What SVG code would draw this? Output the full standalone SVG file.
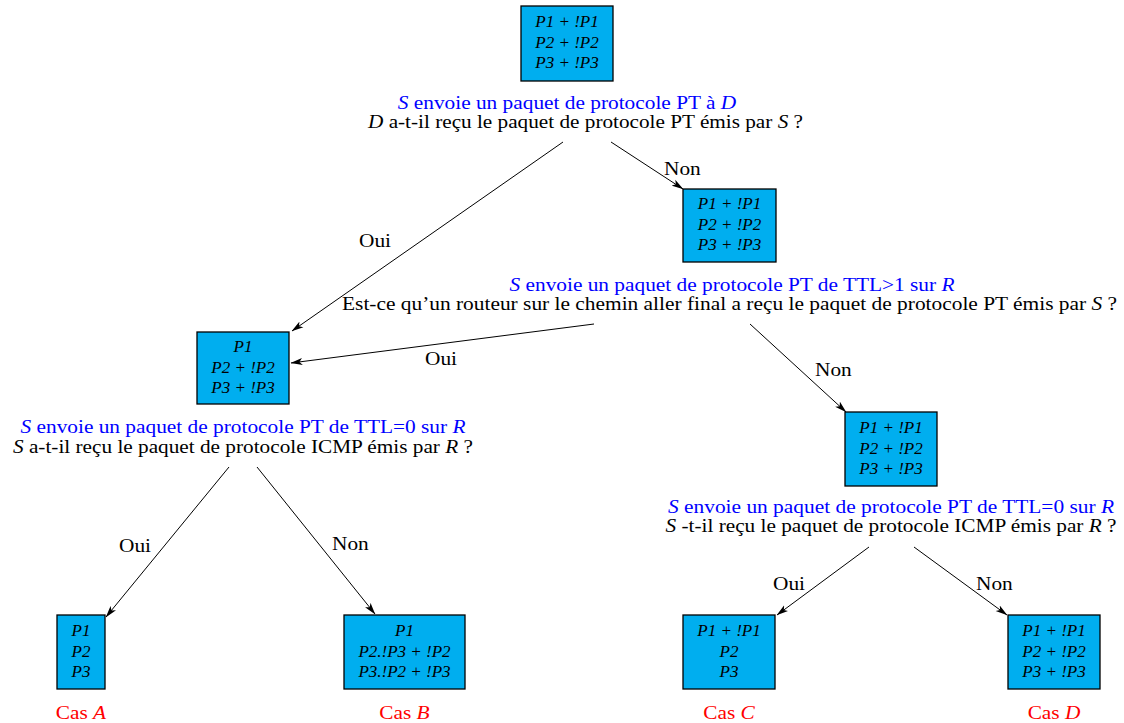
<svg xmlns="http://www.w3.org/2000/svg" width="1124" height="723" viewBox="0 0 1124 723">
<style>
text{font-family:"Liberation Serif","Times New Roman",serif;fill:#000}
.t{font-size:19px}
.bl{fill:#0000ff}
.rd{fill:#ff0000}
.bx{font-size:16px;font-style:italic;text-anchor:middle}
.i{font-style:italic}
.m{text-anchor:middle}
rect{fill:#00aeef;stroke:#000;stroke-width:1.3}
.c line{stroke:#000;stroke-width:1;marker-end:url(#ah)}
</style>
<defs>
<marker id="ah" viewBox="0 0 12 8" refX="11.5" refY="4" markerWidth="12" markerHeight="8" markerUnits="userSpaceOnUse" orient="auto">
<path d="M0,0.5 L12,4 L0,7.5 L3,4 Z" fill="#000"/>
</marker>
</defs>
<rect x="0" y="0" width="1124" height="723" style="fill:#fff;stroke:none"/>

<g id="connectors" class="c">
<line x1="563" y1="142" x2="292" y2="331"/>
<line x1="611" y1="142" x2="683" y2="189"/>
<line x1="594" y1="324" x2="291" y2="363"/>
<line x1="750" y1="324" x2="846" y2="412"/>
<line x1="229" y1="467" x2="106" y2="617"/>
<line x1="257" y1="467" x2="375" y2="614"/>
<line x1="869" y1="547" x2="777" y2="615"/>
<line x1="914" y1="547" x2="1007" y2="615"/>
</g>

<g id="edge-labels" class="t">
<text x="664" y="175" textLength="36.7" lengthAdjust="spacingAndGlyphs">Non</text>
<text x="359" y="247" textLength="32" lengthAdjust="spacingAndGlyphs">Oui</text>
<text x="425" y="365" textLength="32" lengthAdjust="spacingAndGlyphs">Oui</text>
<text x="815" y="376" textLength="36.7" lengthAdjust="spacingAndGlyphs">Non</text>
<text x="119" y="552" textLength="32" lengthAdjust="spacingAndGlyphs">Oui</text>
<text x="332" y="550" textLength="36.7" lengthAdjust="spacingAndGlyphs">Non</text>
<text x="773" y="590" textLength="32" lengthAdjust="spacingAndGlyphs">Oui</text>
<text x="976" y="590" textLength="36.7" lengthAdjust="spacingAndGlyphs">Non</text>
</g>

<g id="n1">
<rect x="521" y="6" width="92" height="75"/>
<text class="bx" x="567" y="27" textLength="63.4" lengthAdjust="spacingAndGlyphs">P1 + !P1</text>
<text class="bx" x="567" y="48" textLength="63.4" lengthAdjust="spacingAndGlyphs">P2 + !P2</text>
<text class="bx" x="567" y="68" textLength="63.4" lengthAdjust="spacingAndGlyphs">P3 + !P3</text>
<text class="t bl m" x="567" y="109" textLength="338.4" lengthAdjust="spacingAndGlyphs"><tspan class="i">S</tspan> envoie un paquet de protocole PT à <tspan class="i">D</tspan></text>
<text class="t" x="368" y="128" textLength="435" lengthAdjust="spacingAndGlyphs"><tspan class="i">D</tspan> a-t-il reçu le paquet de protocole PT émis par <tspan class="i">S</tspan> ?</text>
</g>

<g id="n2">
<rect x="683" y="189" width="93" height="73"/>
<text class="bx" x="729.5" y="209" textLength="63.4" lengthAdjust="spacingAndGlyphs">P1 + !P1</text>
<text class="bx" x="729.5" y="229.5" textLength="63.4" lengthAdjust="spacingAndGlyphs">P2 + !P2</text>
<text class="bx" x="729.5" y="250" textLength="63.4" lengthAdjust="spacingAndGlyphs">P3 + !P3</text>
<text class="t bl m" x="732" y="291" textLength="445" lengthAdjust="spacingAndGlyphs"><tspan class="i">S</tspan> envoie un paquet de protocole PT de TTL&gt;1 sur <tspan class="i">R</tspan></text>
<text class="t" x="342" y="310" textLength="775" lengthAdjust="spacingAndGlyphs">Est-ce qu’un routeur sur le chemin aller final a reçu le paquet de protocole PT émis par <tspan class="i">S</tspan> ?</text>
</g>

<g id="n3">
<rect x="197" y="332" width="92" height="72"/>
<text class="bx" x="243" y="352" textLength="18.9" lengthAdjust="spacingAndGlyphs">P1</text>
<text class="bx" x="243" y="372.5" textLength="63.4" lengthAdjust="spacingAndGlyphs">P2 + !P2</text>
<text class="bx" x="243" y="393" textLength="63.4" lengthAdjust="spacingAndGlyphs">P3 + !P3</text>
<text class="t bl m" x="243" y="433" textLength="445" lengthAdjust="spacingAndGlyphs"><tspan class="i">S</tspan> envoie un paquet de protocole PT de TTL=0 sur <tspan class="i">R</tspan></text>
<text class="t m" x="243" y="453" textLength="460" lengthAdjust="spacingAndGlyphs"><tspan class="i">S</tspan> a-t-il reçu le paquet de protocole ICMP émis par <tspan class="i">R</tspan> ?</text>
</g>

<g id="n4">
<rect x="845" y="412" width="92" height="74"/>
<text class="bx" x="891" y="433" textLength="63.4" lengthAdjust="spacingAndGlyphs">P1 + !P1</text>
<text class="bx" x="891" y="453.5" textLength="63.4" lengthAdjust="spacingAndGlyphs">P2 + !P2</text>
<text class="bx" x="891" y="474" textLength="63.4" lengthAdjust="spacingAndGlyphs">P3 + !P3</text>
<text class="t bl m" x="891" y="513" textLength="446" lengthAdjust="spacingAndGlyphs"><tspan class="i">S</tspan> envoie un paquet de protocole PT de TTL=0 sur <tspan class="i">R</tspan></text>
<text class="t m" x="891" y="532" textLength="451" lengthAdjust="spacingAndGlyphs"><tspan class="i">S</tspan> -t-il reçu le paquet de protocole ICMP émis par <tspan class="i">R</tspan> ?</text>
</g>

<g id="caseA">
<rect x="57" y="615" width="48" height="74"/>
<text class="bx" x="81" y="636" textLength="18.9" lengthAdjust="spacingAndGlyphs">P1</text>
<text class="bx" x="81" y="656.5" textLength="18.9" lengthAdjust="spacingAndGlyphs">P2</text>
<text class="bx" x="81" y="677" textLength="18.9" lengthAdjust="spacingAndGlyphs">P3</text>
<text class="t rd m" x="81" y="719" textLength="50.3" lengthAdjust="spacingAndGlyphs">Cas <tspan class="i">A</tspan></text>
</g>

<g id="caseB">
<rect x="344" y="615" width="121" height="74"/>
<text class="bx" x="404.5" y="636" textLength="18.9" lengthAdjust="spacingAndGlyphs">P1</text>
<text class="bx" x="404.5" y="656.5" textLength="92.2" lengthAdjust="spacingAndGlyphs">P2.!P3 + !P2</text>
<text class="bx" x="404.5" y="677" textLength="92.2" lengthAdjust="spacingAndGlyphs">P3.!P2 + !P3</text>
<text class="t rd m" x="404.5" y="719" textLength="50.3" lengthAdjust="spacingAndGlyphs">Cas <tspan class="i">B</tspan></text>
</g>

<g id="caseC">
<rect x="683" y="615" width="92" height="74"/>
<text class="bx" x="729" y="636" textLength="63.4" lengthAdjust="spacingAndGlyphs">P1 + !P1</text>
<text class="bx" x="729" y="656.5" textLength="18.9" lengthAdjust="spacingAndGlyphs">P2</text>
<text class="bx" x="729" y="677" textLength="18.9" lengthAdjust="spacingAndGlyphs">P3</text>
<text class="t rd m" x="729" y="719" textLength="51.5" lengthAdjust="spacingAndGlyphs">Cas <tspan class="i">C</tspan></text>
</g>

<g id="caseD">
<rect x="1008" y="615" width="92" height="74"/>
<text class="bx" x="1054" y="636" textLength="63.4" lengthAdjust="spacingAndGlyphs">P1 + !P1</text>
<text class="bx" x="1054" y="656.5" textLength="63.4" lengthAdjust="spacingAndGlyphs">P2 + !P2</text>
<text class="bx" x="1054" y="677" textLength="63.4" lengthAdjust="spacingAndGlyphs">P3 + !P3</text>
<text class="t rd m" x="1054" y="719" textLength="52.7" lengthAdjust="spacingAndGlyphs">Cas <tspan class="i">D</tspan></text>
</g>
</svg>
